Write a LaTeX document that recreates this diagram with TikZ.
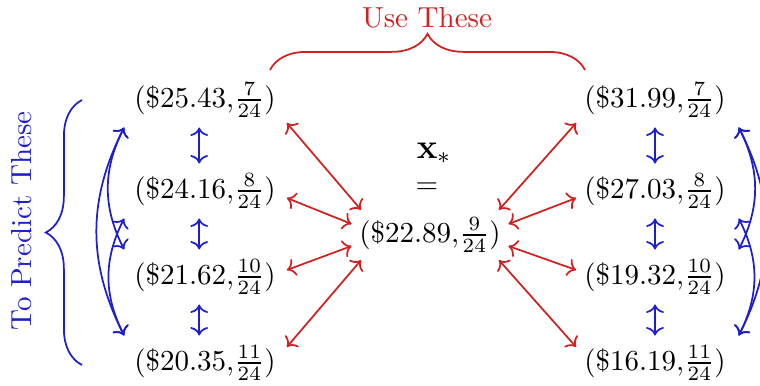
\documentclass[tikz,border=0pt]{standalone}
\usetikzlibrary{arrows.meta, positioning, calc, decorations.pathreplacing}
\definecolor{tpBlue}{HTML}{1E1ECC}
\definecolor{tpRed}{HTML}{D02020}

\begin{document}
\begin{tikzpicture}[x=0.345pt, y=-0.345pt,
    bluearrow/.style={<->, tpBlue, line width=0.6pt},
    redarrow/.style={<->, tpRed, line width=0.6pt},
    bracepath/.style={decorate, decoration={brace, amplitude=12.5pt}, line width=0.6pt}]
  \useasboundingbox (0,0) rectangle (760,385);
  % the two columns of neighbours
  \foreach \lval/\lnum/\rval/\rnum/\y [count=\i] in {
      25.43/7/31.99/7/100, 24.16/8/27.03/8/191,
      21.62/10/19.32/10/277, 20.35/11/16.19/11/363} {
    \node (l\i) at (205, \y) {$(\$\lval{,}\frac{\lnum}{24})$};
    \node (r\i) at (655, \y) {$(\$\rval{,}\frac{\rnum}{24})$};
  }
  % the query point
  \node[inner sep=2.5pt] (c) at (430, 235) {$(\$22.89{,}\frac{9}{24})$};
  \node (eq) at (427, 188) {$=$};
  \node[font=\large] (xs) at (434, 153) {$\mathbf{x}_*$};
  % neighbours along each column
  \foreach \i/\j in {1/2, 2/3, 3/4} {
    \draw[bluearrow] ([xshift=-2pt]l\i.south) -- ([xshift=-2pt]l\j.north);
    \draw[bluearrow] (r\i.south) -- (r\j.north);
  }
  % longer jumps
  \draw[bluearrow] (l1.south west) to[bend right=27] (l4.north west);
  \draw[bluearrow] (l1.south west) to[bend right=27] (l3.north west);
  \draw[bluearrow] (l2.south west) to[bend right=27] (l4.north west);
  \draw[bluearrow] ([xshift=1pt]r1.south east) to[bend left=27] ([xshift=1pt]r4.north east);
  \draw[bluearrow] ([xshift=1pt]r1.south east) to[bend left=27] ([xshift=1pt]r3.north east);
  \draw[bluearrow] ([xshift=1pt]r2.south east) to[bend left=27] ([xshift=1pt]r4.north east);
  % links to the query point
  \foreach \i/\dy/\la/\ra in {1/23/160/20, 2/7/172/8, 3/-7/188/352, 4/-16/200/340} {
    \draw[redarrow] ($(l\i.east)+(1,\dy)$) -- (c.\la);
    \draw[redarrow] ($(r\i.west)+(2,\dy)$) -- (c.\ra);
  }
  % braces
  \draw[tpBlue, bracepath] (82,365) -- (82,100);
  \node[rotate=90, text=tpBlue] (pred) at (22,221) {To Predict These};
  \draw[tpRed, bracepath] (270,70) -- (585,70);
  \node[text=tpRed] (use) at (427,18) {Use These};
\end{tikzpicture}
\end{document}
